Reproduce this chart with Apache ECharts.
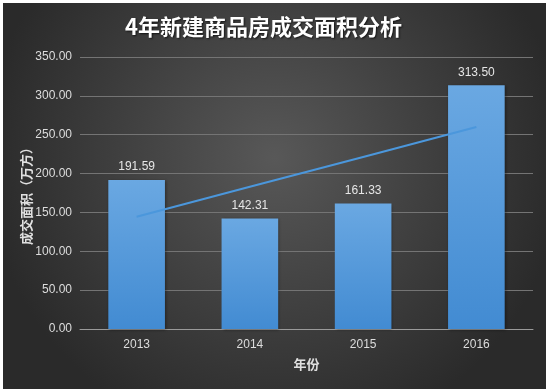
<!DOCTYPE html>
<html><head><meta charset="utf-8">
<script src="https://cdn.jsdelivr.net/npm/echarts@6/dist/echarts.min.js"></script>
<style>
html,body{margin:0;padding:0;background:#fff;width:550px;height:392px;overflow:hidden}
#c{position:absolute;left:3px;top:3px;width:543px;height:386px}
</style></head><body><div id="c"></div>
<script>
const years = ['2013','2014','2015','2016'];
const area = [191.59, 142.31, 161.33, 313.50];
const trend = [144.47, 182.95, 221.42, 259.89];
const yTicks = [0,50,100,150,200,250,300,350];

const chart = echarts.init(document.getElementById('c'));
chart.setOption({
  animation:false,
  backgroundColor:{type:'radial',x:0.5,y:0.4,r:0.75,colorStops:[{offset:0,color:'#585858'},{offset:1,color:'#2a2a2a'}]},
  title:{text:'4年新建商品房成交面积分析',left:117,top:8,
    textStyle:{color:'#ffffff',fontSize:22,fontWeight:'bold',fontFamily:'Noto Sans CJK SC',
      textShadowColor:'rgba(0,0,0,0.7)',textShadowBlur:2,textShadowOffsetX:1,textShadowOffsetY:1}},
  grid:{left:77,right:13,top:54,bottom:60},
  xAxis:{type:'category',data:years,
    name:'年份',nameLocation:'middle',nameGap:29,
    nameTextStyle:{color:'#e0e0e0',fontSize:13,fontWeight:'bold',fontFamily:'Noto Sans CJK SC'},
    axisLine:{lineStyle:{color:'#9a9a9a',width:1}},axisTick:{show:false},
    axisLabel:{color:'#dddddd',fontSize:12,margin:10,fontFamily:'Liberation Sans'}},
  yAxis:{type:'value',min:yTicks[0],max:yTicks[yTicks.length-1],interval:50,
    name:'成交面积（万方）',nameLocation:'middle',nameGap:47,nameRotate:90,nameMoveOverlap:false,
    nameTextStyle:{color:'#e0e0e0',fontSize:13,fontWeight:'bold',fontFamily:'Noto Sans CJK SC'},
    axisLine:{show:false},axisTick:{show:false},
    splitLine:{lineStyle:{color:'#747474',width:1}},
    axisLabel:{color:'#dddddd',fontSize:12,margin:8,fontFamily:'Liberation Sans',formatter:v=>v.toFixed(2)}},
  series:[
    {type:'bar',data:area,barWidth:'50%',
      itemStyle:{color:{type:'linear',x:0,y:0,x2:0,y2:1,colorStops:[{offset:0,color:'#6aa8e2'},{offset:1,color:'#428bd2'}]},
        shadowColor:'rgba(0,0,0,0.4)',shadowBlur:3,shadowOffsetX:1,shadowOffsetY:1},
      label:{show:true,position:'top',distance:7,color:'#e6e6e6',fontSize:12,fontFamily:'Liberation Sans',formatter:p=>p.value.toFixed(2)}},
    {type:'line',data:trend,symbol:'none',z:5,
      lineStyle:{color:'#4b97dc',width:2}}
  ]
});
</script></body></html>
